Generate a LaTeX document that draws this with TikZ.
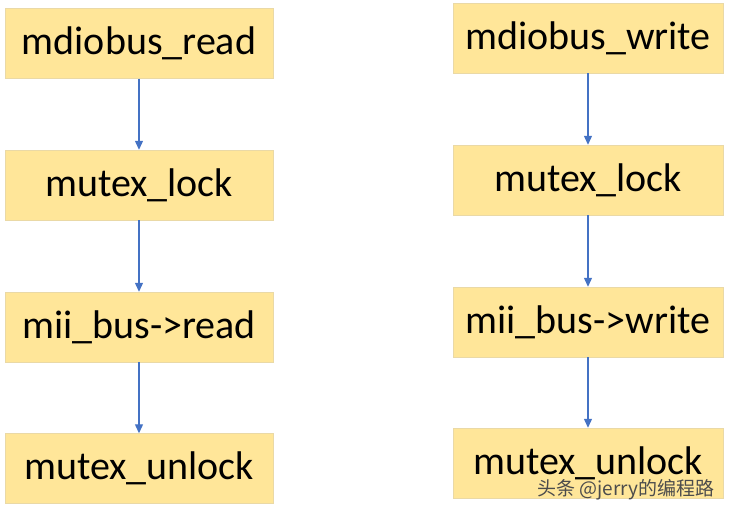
\documentclass[tikz,border=0pt]{standalone}
\usepackage{fontspec}
\setmainfont{Carlito}
\newfontfamily\cjk{Noto Sans CJK SC}
\usetikzlibrary{arrows.meta}
\definecolor{boxfill}{HTML}{FFE699}
\definecolor{boxline}{HTML}{EAD9A6}
\definecolor{arrowblue}{HTML}{4472C4}

\begin{document}
\begin{tikzpicture}[x=1pt,y=-1pt]
\tikzset{boite/.style={draw=boxline, fill=boxfill, minimum width=268pt, minimum height=70pt, inner sep=0pt, font=\fontsize{40}{46}\selectfont},
fleche/.style={draw=arrowblue, line width=1.2pt, -{Triangle[length=9pt,width=8pt]}}}
\useasboundingbox (0,0) rectangle (732,513);
\node[boite] (L1) at (139,43.5) {mdiobus\_read};
\node[boite] (L2) at (139,185) {mutex\_lock};
\node[boite] (L3) at (139,327) {mii\_bus->read};
\node[boite] (L4) at (139,468.5) {mutex\_unlock};
\node[boite, minimum width=270pt] (R1) at (588,38) {mdiobus\_write};
\node[boite, minimum width=270pt] (R2) at (588,180) {mutex\_lock};
\node[boite, minimum width=270pt] (R3) at (588,322) {mii\_bus->write};
\node[boite, minimum width=270pt] (R4) at (588,463) {mutex\_unlock};
\draw[fleche] (L1) -- (L2);
\draw[fleche] (L2) -- (L3);
\draw[fleche] (L3) -- (L4);
\draw[fleche] (R1) -- (R2);
\draw[fleche] (R2) -- (R3);
\draw[fleche] (R3) -- (R4);
\node[text=black!70, font=\cjk\fontsize{19}{22}\selectfont, anchor=east] (wm) at (718,490) {头条 @jerry的编程路};
\end{tikzpicture}
\end{document}
